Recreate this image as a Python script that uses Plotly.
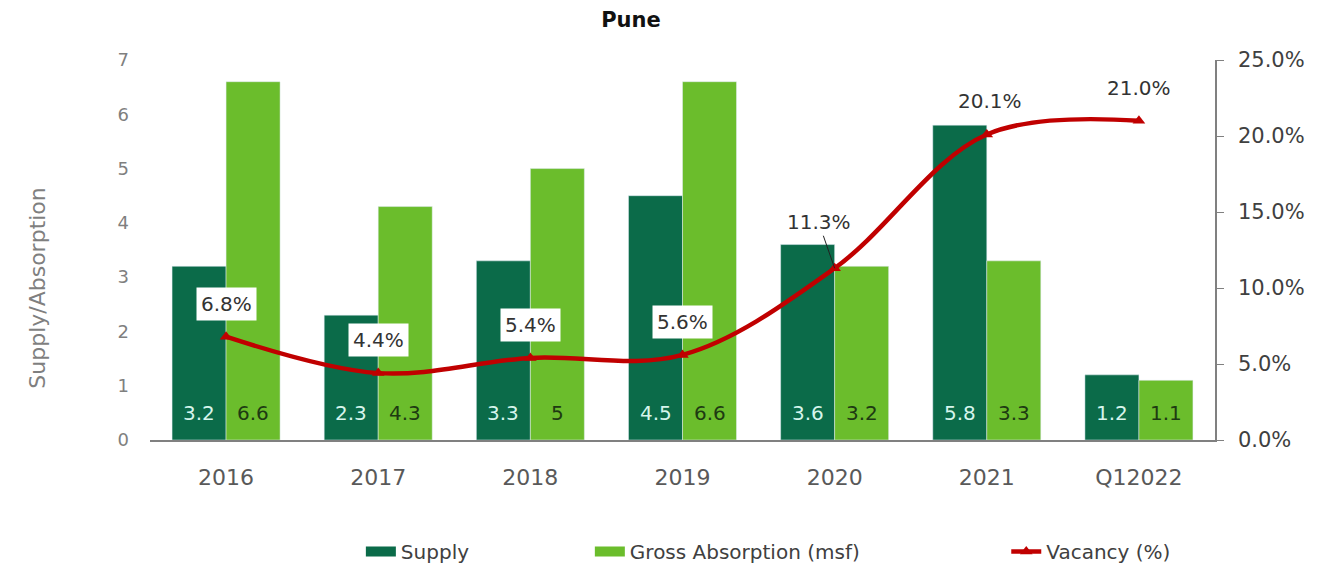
import plotly.graph_objects as go

# Pune office market: supply, gross absorption (msf) and vacancy
years = ["2016", "2017", "2018", "2019", "2020", "2021", "Q12022"]
supply = [3.2, 2.3, 3.3, 4.5, 3.6, 5.8, 1.2]
absorption = [6.6, 4.3, 5.0, 6.6, 3.2, 3.3, 1.1]
vacancy = [0.068, 0.044, 0.054, 0.056, 0.113, 0.201, 0.210]

SUPPLY_C = "#0B6B49"
ABSORB_C = "#6BBD2C"
VAC_C = "#C00000"
FONT = "DejaVu Sans"

fig = go.Figure()
fig.add_trace(go.Bar(
    x=years, y=supply, name="Supply", marker_color=SUPPLY_C, showlegend=False,
))
fig.add_trace(go.Bar(
    x=years, y=absorption, name="Gross Absorption (msf)", marker_color=ABSORB_C,
    showlegend=False,
))
fig.add_trace(go.Scatter(
    x=years, y=vacancy, name="Vacancy (%)", yaxis="y2", mode="lines+markers",
    line=dict(color=VAC_C, width=4.5, shape="spline", smoothing=1.0),
    marker=dict(symbol="triangle-up", size=11, color=VAC_C),
    legend="legend3",
))
# wide swatches for the bar series in the legend
fig.add_trace(go.Scatter(
    x=[None], y=[None], mode="lines", name="Supply",
    line=dict(color=SUPPLY_C, width=17), legend="legend",
))
fig.add_trace(go.Scatter(
    x=[None], y=[None], mode="lines", name="Gross Absorption (msf)",
    line=dict(color=ABSORB_C, width=17), legend="legend2",
))

annotations = []
# value labels at the foot of each bar (x given as category index)
for i in range(len(years)):
    annotations.append(dict(
        x=i, y=0, xref="x", yref="y", text=f"{supply[i]:g}", showarrow=False,
        xshift=-27, yshift=27, font=dict(family=FONT, size=20, color="#D6F5EC"),
    ))
    annotations.append(dict(
        x=i, y=0, xref="x", yref="y", text=f"{absorption[i]:g}", showarrow=False,
        xshift=27, yshift=27, font=dict(family=FONT, size=20, color="#1E3A12"),
    ))

# vacancy labels
boxed = [True, True, True, True, False, False, False]
for i in range(len(years)):
    txt = f"{vacancy[i] * 100:.1f}%"
    if i == 4:
        annotations.append(dict(
            x=i, y=vacancy[i], xref="x", yref="y2", text=txt, showarrow=True,
            arrowhead=0, arrowwidth=1, arrowcolor="#222222", ax=-16, ay=-46,
            standoff=0, font=dict(family=FONT, size=20, color="#333333"),
        ))
    else:
        annotations.append(dict(
            x=i, y=vacancy[i], xref="x", yref="y2", text=txt, showarrow=False,
            yshift=33, xshift=3 if i == 5 else 0,
            bgcolor="white" if boxed[i] else "rgba(0,0,0,0)", borderpad=4,
            font=dict(family=FONT, size=20, color="#333333"),
        ))

# left axis title
annotations.append(dict(
    x=-0.120, y=0.40, xref="paper", yref="paper", text="Supply/Absorption",
    textangle=-90, showarrow=False, font=dict(family=FONT, size=22, color="#7F7F7F"),
))

legend_common = dict(yref="container", y=0.034, xanchor="left", yanchor="middle",
                     orientation="h", font=dict(size=20, color="#404040"))

fig.update_layout(
    width=1329, height=571,
    margin=dict(l=150, r=114, t=60, b=131),
    paper_bgcolor="white", plot_bgcolor="white",
    barmode="group", bargap=0.29, bargroupgap=0,
    font=dict(family=FONT, color="#595959"),
    title=dict(text="<b>Pune</b>", x=0.4516, xref="paper", xanchor="center",
               y=0.965, yanchor="middle", font=dict(family=FONT, size=21, color="#111111")),
    xaxis=dict(type="category", range=[-0.5, 6.5], showline=True, linecolor="#808080",
               linewidth=1.5, ticks="", tickfont=dict(size=22, color="#595959"),
               ticklabelstandoff=17, showgrid=False),
    yaxis=dict(range=[0, 7], dtick=1, showgrid=False, zeroline=False, showline=False,
               tickfont=dict(size=18, color="#7F7F7F"), ticklabelstandoff=20),
    yaxis2=dict(range=[0, 0.25], dtick=0.05, tickformat=".1%", overlaying="y", side="right",
                showgrid=False, zeroline=False, showline=True, linecolor="#808080",
                linewidth=1.5, ticks="outside", ticklen=7, tickcolor="#808080",
                ticklabelstandoff=10, tickfont=dict(size=21, color="#404040")),
    legend=dict(x=0.198, **legend_common),
    legend2=dict(x=0.413, **legend_common),
    legend3=dict(x=0.804, **legend_common),
    annotations=annotations,
    showlegend=True,
)

fig.write_html("out.html")
